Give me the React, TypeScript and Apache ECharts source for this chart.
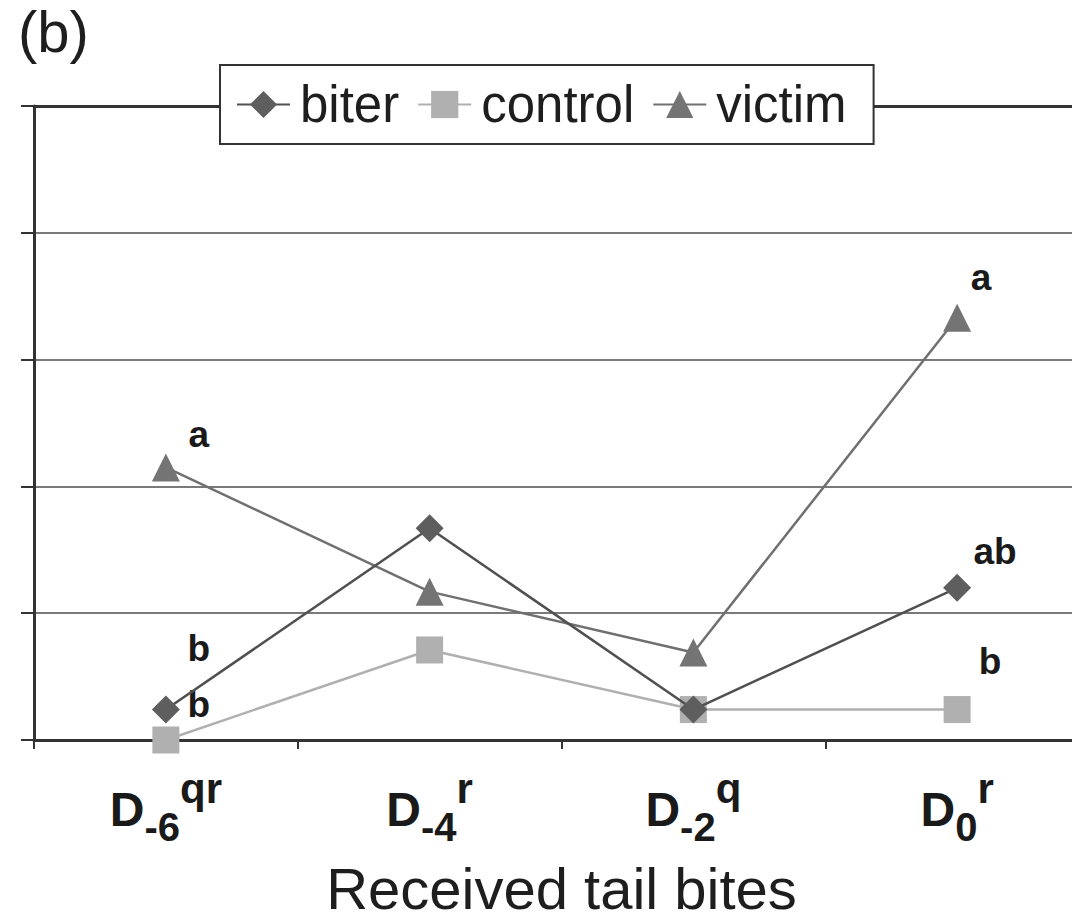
import React, { useEffect, useRef } from 'react';
import * as echarts from 'echarts';

// ---- data ----
const categories = ['D-6', 'D-4', 'D-2', 'D0'];
const categorySub = ['-6', '-4', '-2', '0'];
const categorySup = ['qr', 'r', 'q', 'r'];
const seriesNames = ['biter', 'control', 'victim'];
const biter = [0.24, 1.67, 0.24, 1.2];
const control = [0, 0.71, 0.24, 0.24];
const victim = [2.15, 1.17, 0.69, 3.33];
const biterLetters = ['b', '', '', 'ab'];
const controlLetters = ['b', '', '', 'b'];
const victimLetters = ['a', '', '', 'a'];
const yMin = 0;
const yMax = 5;
const yStep = 1;
const panelLabel = '(b)';
const xTitle = 'Received tail bites';

// ---- layout / style (not data) ----
const FONT = '"Liberation Sans", Arial, Helvetica, sans-serif';
const letterOffsets: Record<string, (number[] | null)[]> = {
  biter: [[33, -61], null, null, [38, -36]],
  control: [[33, -36], null, null, [33, -48]],
  victim: [[33, -33], null, null, [24, -40]],
};

function buildData(values: number[], letters: string[], offsets: (number[] | null)[]) {
  return values.map((v, i) =>
    letters[i]
      ? { value: v, label: { show: true, formatter: letters[i], offset: offsets[i] || [0, 0] } }
      : v
  );
}

const letterLabel = {
  show: false,
  position: 'inside',
  fontSize: 37,
  fontWeight: 'bold',
  color: '#1a1a1a',
  fontFamily: FONT,
};

export default function App() {
  const ref = useRef<HTMLDivElement>(null);
  useEffect(() => {
    if (!ref.current) return;
    const chart = echarts.init(ref.current, undefined, { renderer: 'svg' });
    const option: any = {
      animation: false,
      backgroundColor: '#ffffff',
      textStyle: { fontFamily: FONT },
      title: {
        text: panelLabel,
        left: 18,
        top: 2,
        padding: 0,
        textStyle: { fontSize: 58, fontWeight: 'normal', color: '#1e1e1e', fontFamily: FONT },
      },
      legend: {
        data: seriesNames,
        left: 220,
        top: 65,
        z: 20,
        orient: 'horizontal',
        backgroundColor: '#ffffff',
        borderColor: '#333333',
        borderWidth: 2,
        padding: [14, 27, 14, 16],
        itemWidth: 53,
        itemHeight: 34,
        itemGap: 18,
        textStyle: { fontSize: 51, color: '#1e1e1e', fontFamily: FONT, padding: [0, 0, 0, 5], lineHeight: 50 },
      },
      grid: {
        left: 34,
        top: 106,
        width: 1055,
        height: 634,
        containLabel: false,
        outerBoundsMode: 'none',
      },
      xAxis: {
        type: 'category',
        data: categories,
        boundaryGap: true,
        axisLine: { show: true, lineStyle: { color: '#333', width: 3 } },
        axisTick: { show: true, length: 9, lineStyle: { color: '#333', width: 2 } },
        axisLabel: {
          margin: 27,
          interval: 0,
          formatter: (_v: string, i: number) => `{d|D}{sub|${categorySub[i]}}{sup|${categorySup[i]}}`,
          rich: {
            d: { fontSize: 48, fontWeight: 'bold', color: '#1a1a1a', fontFamily: FONT },
            sub: { fontSize: 40, fontWeight: 'bold', color: '#1a1a1a', fontFamily: FONT, padding: [35, 0, 0, 0] },
            sup: { fontSize: 42, fontWeight: 'bold', color: '#1a1a1a', fontFamily: FONT, padding: [0, 0, 42, 0] },
          },
        },
        name: xTitle,
        nameLocation: 'middle',
        nameGap: 120,
        nameTextStyle: { fontSize: 58, lineHeight: 56, color: '#1e1e1e', fontFamily: FONT },
      },
      yAxis: {
        type: 'value',
        min: yMin,
        max: yMax,
        interval: yStep,
        axisLine: { show: true, lineStyle: { color: '#333', width: 3 } },
        axisTick: { show: true, length: 13, lineStyle: { color: '#333', width: 2 } },
        axisLabel: { show: false },
        splitLine: { show: true, lineStyle: { color: '#7a7a7a', width: 2 } },
      },
      series: [
        {
          name: seriesNames[0],
          type: 'line',
          data: buildData(biter, biterLetters, letterOffsets.biter),
          symbol: 'diamond',
          symbolSize: 28,
          itemStyle: { color: '#5e5e5e' },
          lineStyle: { color: '#505050', width: 2.5 },
          label: letterLabel,
          z: 3,
          markLine: {
            silent: true,
            symbol: 'none',
            z: 2,
            label: { show: false },
            lineStyle: { color: '#333', width: 3, type: 'solid' },
            data: [{ yAxis: yMax }],
          },
        },
        {
          name: seriesNames[1],
          type: 'line',
          data: buildData(control, controlLetters, letterOffsets.control),
          symbol: 'rect',
          symbolSize: 27,
          itemStyle: { color: '#b0b0b0' },
          lineStyle: { color: '#b0b0b0', width: 2.5 },
          label: letterLabel,
          z: 2,
        },
        {
          name: seriesNames[2],
          type: 'line',
          data: buildData(victim, victimLetters, letterOffsets.victim),
          symbol: 'triangle',
          symbolSize: 28,
          itemStyle: { color: '#747474' },
          lineStyle: { color: '#707070', width: 2.5 },
          label: letterLabel,
          z: 2,
        },
      ],
    };
    chart.setOption(option);
    return () => chart.dispose();
  }, []);
  return (
    <div
      ref={ref}
      style={{ position: 'absolute', left: 0, top: 0, width: 1072, height: 923, background: '#fff' }}
    />
  );
}
